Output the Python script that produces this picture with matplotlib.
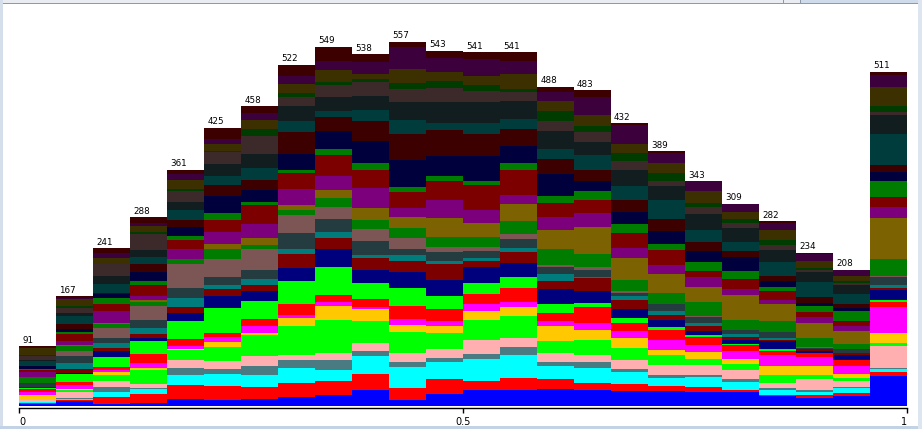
import numpy as np
import matplotlib
matplotlib.use('Agg')
import matplotlib.pyplot as plt
from matplotlib.patches import Rectangle

# class counts per bin, class 0 (bottom) .. class 28 (top)
bin_00 = [2, 2, 1, 1, 2, 1, 7, 5, 4, 2, 0, 1, 0, 7, 0, 8, 0, 8, 3, 2, 5, 0, 7, 1, 7, 1, 11, 2, 1]
bin_01 = [7, 1, 2, 2, 9, 3, 2, 6, 4, 12, 1, 7, 9, 11, 8, 7, 2, 6, 11, 3, 4, 8, 12, 4, 9, 3, 10, 2, 2]
bin_02 = [3, 10, 8, 8, 8, 10, 5, 3, 4, 16, 8, 5, 7, 9, 14, 7, 2, 18, 11, 8, 6, 2, 14, 12, 19, 0, 9, 8, 7]
bin_03 = [4, 13, 9, 1, 6, 21, 4, 7, 14, 20, 5, 6, 8, 13, 22, 5, 3, 7, 17, 5, 14, 13, 10, 11, 25, 3, 9, 5, 8]
bin_04 = [10, 21, 15, 11, 13, 15, 2, 4, 11, 28, 11, 10, 14, 15, 36, 9, 0, 14, 14, 6, 14, 11, 15, 12, 18, 3, 14, 8, 7]
bin_05 = [9, 21, 18, 8, 12, 22, 7, 8, 6, 38, 18, 11, 6, 12, 29, 14, 8, 18, 19, 11, 25, 18, 14, 18, 18, 2, 10, 8, 17]
bin_06 = [10, 18, 19, 14, 15, 32, 3, 10, 11, 28, 15, 9, 9, 15, 31, 6, 11, 22, 29, 4, 19, 15, 18, 22, 28, 10, 14, 11, 10]
bin_07 = [13, 21, 24, 12, 8, 44, 12, 4, 18, 35, 19, 22, 8, 24, 27, 8, 8, 25, 24, 5, 24, 33, 18, 22, 15, 6, 14, 12, 17]
bin_08 = [16, 21, 18, 15, 11, 50, 21, 6, 11, 43, 28, 17, 8, 20, 19, 13, 13, 21, 33, 9, 27, 22, 9, 22, 18, 5, 17, 14, 22]
bin_09 = [23, 25, 28, 8, 12, 34, 18, 3, 12, 25, 20, 18, 5, 21, 18, 14, 18, 31, 28, 10, 34, 30, 17, 22, 22, 4, 8, 18, 12]
bin_10 = [9, 18, 32, 8, 14, 31, 11, 9, 20, 28, 24, 18, 8, 9, 18, 14, 17, 15, 24, 8, 41, 40, 21, 28, 20, 9, 21, 34, 8]
bin_11 = [17, 24, 26, 5, 15, 24, 11, 8, 17, 21, 24, 24, 5, 14, 8, 15, 29, 27, 30, 8, 30, 40, 11, 32, 21, 11, 14, 21, 11]
bin_12 = [23, 14, 34, 8, 21, 31, 14, 11, 14, 18, 24, 9, 5, 11, 5, 16, 21, 21, 37, 6, 39, 34, 17, 32, 17, 8, 14, 26, 11]
bin_13 = [24, 18, 35, 12, 14, 34, 14, 8, 21, 17, 21, 17, 6, 14, 8, 20, 26, 14, 38, 11, 25, 26, 15, 28, 14, 4, 23, 20, 14]
bin_14 = [26, 15, 20, 6, 14, 18, 22, 8, 12, 15, 22, 12, 11, 11, 3, 25, 28, 20, 22, 11, 34, 23, 15, 28, 15, 15, 15, 14, 8]
bin_15 = [24, 11, 23, 8, 12, 23, 15, 11, 24, 6, 18, 20, 1, 11, 5, 20, 41, 21, 20, 14, 15, 17, 23, 21, 15, 9, 17, 27, 11]
bin_16 = [22, 11, 18, 5, 14, 18, 15, 11, 12, 8, 14, 14, 5, 5, 3, 17, 34, 15, 23, 14, 18, 18, 22, 25, 14, 11, 15, 28, 3]
bin_17 = [22, 8, 12, 5, 15, 15, 8, 15, 15, 5, 11, 8, 5, 11, 1, 17, 28, 14, 23, 9, 20, 18, 29, 22, 8, 12, 15, 15, 3]
bin_18 = [21, 8, 15, 3, 15, 9, 11, 11, 12, 3, 6, 8, 5, 9, 1, 21, 24, 15, 9, 14, 17, 14, 18, 24, 11, 6, 18, 15, 0]
bin_19 = [20, 4, 12, 4, 15, 9, 7, 13, 9, 1, 7, 4, 4, 6, 1, 15, 38, 10, 15, 12, 21, 9, 15, 21, 7, 7, 10, 13, 0]
bin_20 = [14, 2, 8, 3, 8, 12, 14, 17, 6, 3, 11, 3, 2, 9, 1, 17, 25, 6, 14, 6, 9, 8, 22, 18, 8, 8, 14, 11, 3]
bin_21 = [11, 5, 5, 2, 17, 6, 14, 15, 5, 1, 3, 2, 1, 1, 2, 14, 23, 8, 8, 9, 5, 9, 23, 15, 3, 3, 11, 11, 2]
bin_22 = [15, 4, 8, 2, 8, 5, 6, 12, 9, 0, 8, 4, 0, 5, 0, 8, 20, 8, 8, 14, 6, 5, 15, 14, 3, 3, 9, 9, 0]
bin_23 = [45, 6, 5, 2, 33, 5, 15, 40, 8, 3, 15, 3, 5, 11, 2, 27, 62, 17, 15, 24, 14, 11, 47, 30, 5, 9, 29, 18, 5]

bins = [bin_00, bin_01, bin_02, bin_03, bin_04, bin_05, bin_06, bin_07,
        bin_08, bin_09, bin_10, bin_11, bin_12, bin_13, bin_14, bin_15,
        bin_16, bin_17, bin_18, bin_19, bin_20, bin_21, bin_22, bin_23]

tick_values = [0, 0.5, 1]
tick_labels = ['0', '0.5', '1']

# weka palette: 10 base colours, later classes darkened (java Color.darker)
base_colors = [(0, 0, 255), (255, 0, 0), (0, 255, 255), (75, 123, 130), (255, 175, 175),
               (0, 255, 0), (255, 200, 0), (255, 0, 255), (255, 0, 0), (0, 255, 0)]


def class_color(i):
    c = base_colors[i % 10]
    for _ in range(2 * (i // 10)):
        c = tuple(int(v * 0.7) for v in c)
    return tuple(v / 255 for v in c)


W, H = 922, 429
fig = plt.figure(figsize=(W / 100, H / 100), dpi=100)
fig.patch.set_facecolor('white')


def px_rect(x, y, w, h, color):
    # pixel box measured from top-left
    fig.add_artist(Rectangle((x / W, 1 - (y + h) / H), w / W, h / H,
                             transform=fig.transFigure, facecolor=color,
                             edgecolor='none', zorder=0))


# window chrome round the panel
px_rect(0, 0, W, 3, '#e9ecf0')
px_rect(0, 3, W, 1, '#8e9aab')
px_rect(783, 0, 1, 3, '#8e9aab')
px_rect(800, 0, 1, 3, '#8e9aab')
px_rect(801, 0, W - 801, 3, '#cfdbea')
px_rect(0, 0, 3, H, '#d5dfeb')
px_rect(0, 426, W, 3, '#c3d2e4')
px_rect(918, 0, 4, H, '#dde6f0')

left, right = 19.3, 907.0
bottom_px, top_px = 405.5, 41.7
ax = fig.add_axes([left / W, (H - bottom_px) / H, (right - left) / W, (bottom_px - top_px) / H])
ax.set_facecolor('none')

counts = np.array(bins)
n_bins, n_classes = counts.shape
edges = np.arange(n_bins) / n_bins
width = 1 / n_bins

base = np.zeros(n_bins)
for k in range(n_classes):
    ax.bar(edges, counts[:, k], width=width, bottom=base, align='edge',
           color=class_color(k), linewidth=0, antialiased=False)
    base += counts[:, k]

for x0, total in zip(edges, base):
    ax.annotate(str(int(total)), (x0, total), xytext=(3, 1.5), textcoords='offset pixels',
                ha='left', va='bottom', fontsize=6.3, family='DejaVu Sans',
                annotation_clip=False)

ax.set_xlim(0, 1)
ax.set_ylim(0, base.max())
ax.set_yticks([])
for side in ['top', 'left', 'right']:
    ax.spines[side].set_visible(False)
ax.spines['bottom'].set_position(('outward', 2.0))
ax.spines['bottom'].set_linewidth(1.0)
ax.set_xticks(tick_values)
ax.set_xticklabels(tick_labels, fontsize=7)
ax.tick_params(axis='x', direction='out', length=3.6, width=1.0, pad=3)
labels = ax.get_xticklabels()
labels[0].set_ha('left')
labels[-1].set_ha('right')

fig.savefig('out.png', dpi=100)
